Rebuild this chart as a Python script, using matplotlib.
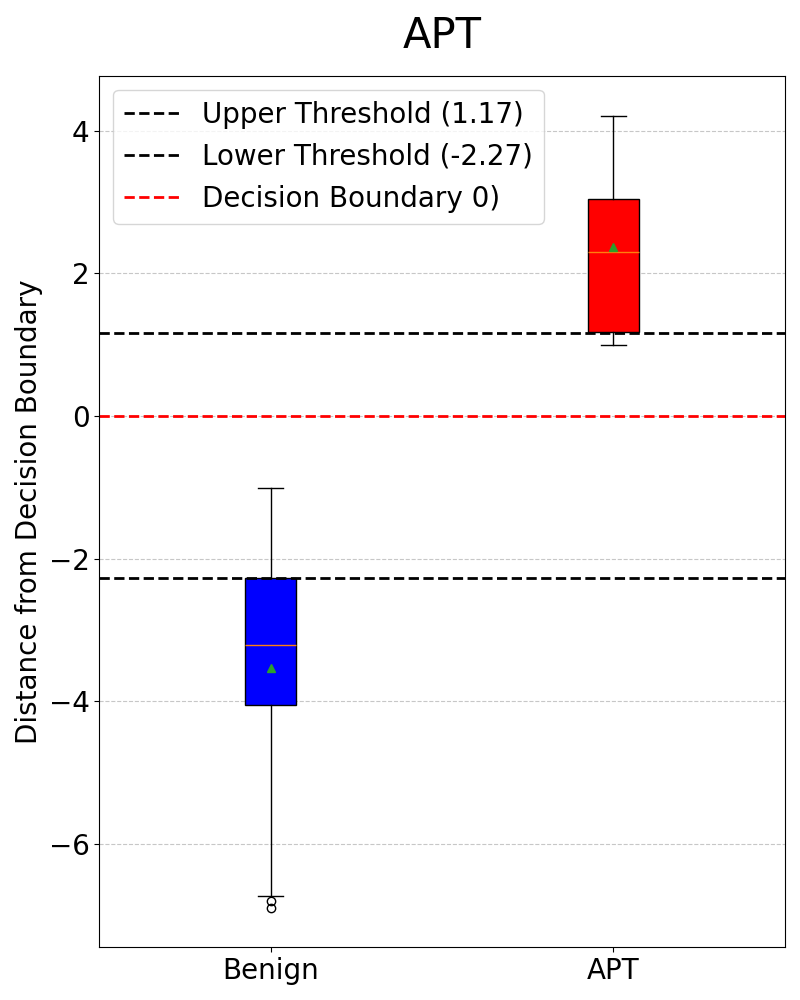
import matplotlib
matplotlib.use("Agg")
import matplotlib.pyplot as plt

categories = ["Benign", "APT"]
q1 = [-4.05, 1.18]
med = [-3.21, 2.30]
q3 = [-2.27, 3.05]
whislo = [-6.74, 1.00]
whishi = [-1.01, 4.21]
means = [-3.53, 2.37]
fliers = [[-6.80, -6.90], []]
box_colors = ["blue", "red"]
upper_thr = 1.17
lower_thr = -2.27
decision = 0

stats = []
for i, c in enumerate(categories):
    stats.append(dict(label=c, q1=q1[i], med=med[i], q3=q3[i], whislo=whislo[i],
                      whishi=whishi[i], mean=means[i], fliers=fliers[i]))

fig, ax = plt.subplots(figsize=(8, 10), dpi=100)
bp = ax.bxp(stats, showmeans=True, patch_artist=True, widths=0.15)
for patch, col in zip(bp["boxes"], box_colors):
    patch.set_facecolor(col)

ax.axhline(upper_thr, color="black", linestyle="--", linewidth=2, label=f"Upper Threshold ({upper_thr})")
ax.axhline(lower_thr, color="black", linestyle="--", linewidth=2, label=f"Lower Threshold ({lower_thr})")
ax.axhline(decision, color="red", linestyle="--", linewidth=2, label="Decision Boundary 0)")

ax.set_ylim(-7.45, 4.77)
ax.set_title("APT", fontsize=30, pad=20)
ax.set_ylabel("Distance from Decision Boundary", fontsize=20)
ax.tick_params(axis="both", labelsize=20)
ax.yaxis.grid(True, linestyle="--", alpha=0.7)
ax.set_axisbelow(True)
ax.legend(loc="upper left", fontsize=20)

fig.subplots_adjust(left=0.124, right=0.981, top=0.924, bottom=0.053)
fig.savefig("out.png", dpi=100)
